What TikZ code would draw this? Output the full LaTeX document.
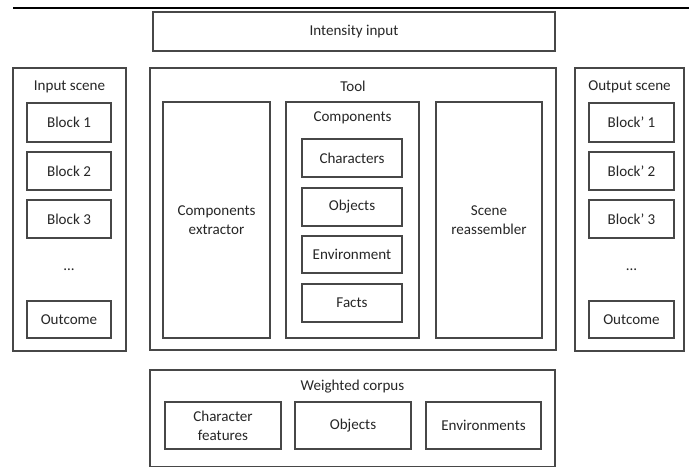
\documentclass[tikz,border=0pt]{standalone}
\usepackage{fontspec}
\setmainfont{Carlito}
\usetikzlibrary{fit}

\tikzset{
  box/.style={draw=black!72, line width=0.9pt, inner sep=0pt},
  every label/.style={inner sep=0pt, align=center, text=black!85,
    font=\fontsize{11.3}{14}\selectfont},
  title/.style={inner sep=0pt, text=black!85, font=\fontsize{11.3}{14}\selectfont},
}

\begin{document}
\begin{tikzpicture}[x=0.75pt, y=-0.75pt]
		\useasboundingbox (0, 0) rectangle (689, 468);

		% riga in alto
		\coordinate (rule_l) at (13, 8);
		\coordinate (rule_r) at (689, 8);
		\draw[line width=1.6pt] (rule_l) -- (rule_r);

		\node[box, fit={(153, 12) (555, 51)}, label=center:Intensity input] (intensity) {};

		% scena in ingresso
		\node[box, fit={(13, 68) (126, 351)}] (inscene) {};
		\node[title] (inscene_t) at (69.5, 87) {Input scene};
		\node[box, fit={(27, 103) (111, 142)}, label=center:Block 1] (in1) {};
		\node[box, fit={(27, 152) (111, 190)}, label=center:Block 2] (in2) {};
		\node[box, fit={(27, 200) (111, 238)}, label=center:Block 3] (in3) {};
		\node[title] (indots) at (69, 270) {...};
		\node[box, fit={(27, 301) (111, 338)}, label=center:Outcome] (inout) {};

		% tool
		\node[box, fit={(150, 68) (556, 350)}] (tool) {};
		\node[title] (tool_t) at (353, 86) {Tool};
		\node[box, fit={(163, 102) (270, 338)}, label={center:Components\\extractor}] (extractor) {};
		\node[box, fit={(286, 102) (419, 338)}] (comp) {};
		\node[title] (comp_t) at (352.5, 118) {Components};
		\node[box, fit={(302, 139) (402, 177)}, label=center:Characters] (chars) {};
		\node[box, fit={(302, 188) (402, 226)}, label=center:Objects] (objs) {};
		\node[box, fit={(302, 236) (402, 273)}, label=center:Environment] (env) {};
		\node[box, fit={(302, 284) (402, 322)}, label=center:Facts] (facts) {};
		\node[box, fit={(436, 102) (542, 338)}, label={center:Scene\\reassembler}] (reassembler) {};

		% scena in uscita
		\node[box, fit={(575, 68) (684, 351)}] (outscene) {};
		\node[title] (outscene_t) at (629.5, 87) {Output scene};
		\node[box, fit={(589, 103) (674, 142)}, label=center:Block' 1] (out1) {};
		\node[box, fit={(589, 152) (674, 190)}, label=center:Block' 2] (out2) {};
		\node[box, fit={(589, 200) (674, 238)}, label=center:Block' 3] (out3) {};
		\node[title] (outdots) at (631.5, 270) {...};
		\node[box, fit={(589, 301) (674, 338)}, label=center:Outcome] (outout) {};

		% corpus
		\node[box, fit={(150, 370) (555, 466.5)}] (corpus) {};
		\node[title] (corpus_t) at (352.5, 387) {Weighted corpus};
		\node[box, fit={(165, 402) (281, 449)}, label={center:Character\\features}] (charfeat) {};
		\node[box, fit={(295, 402) (411, 449)}, label=center:Objects] (corpobjs) {};
		\node[box, fit={(426, 402) (541, 449)}, label=center:Environments] (corpenv) {};
	\end{tikzpicture}
\end{document}
